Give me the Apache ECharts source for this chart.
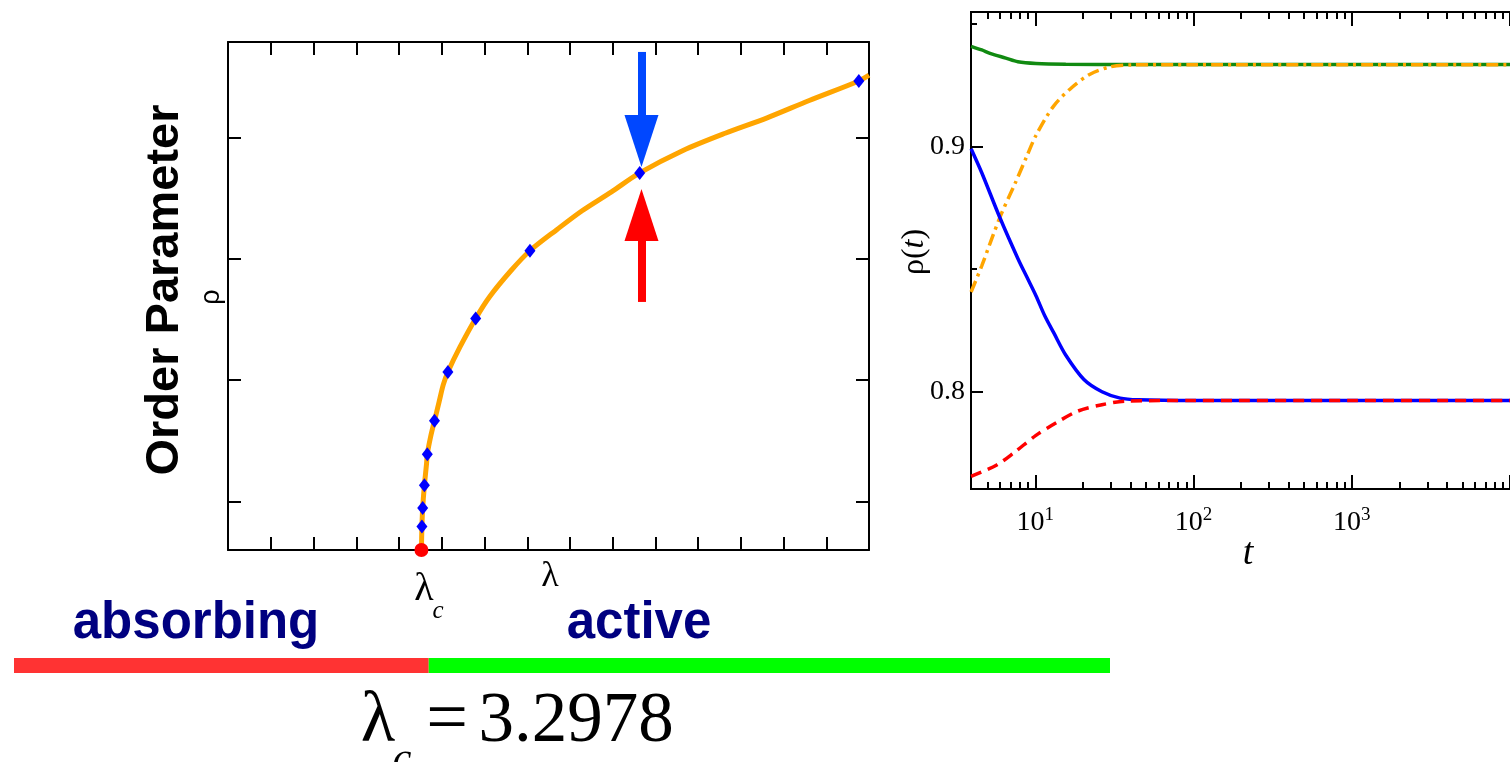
<!DOCTYPE html>
<html>
<head>
<meta charset="utf-8">
<title>order parameter</title>
<script src="https://cdn.jsdelivr.net/npm/echarts@6/dist/echarts.min.js"></script>
<style>
html, body { margin: 0; padding: 0; background: #fff; }
#chart { width: 1510px; height: 762px; }
</style>
</head>
<body>
<div id="chart"></div>
<script>
// ---- left panel: order parameter vs lambda ----
const lambdaC = 3.2978;
const curveLambda = [3.2978, 3.2984, 3.2993, 3.3013, 3.3038, 3.3047, 3.3087, 3.3131, 3.3185, 3.3234, 3.3288,
  3.3431, 3.3613, 3.3776, 3.4022, 3.4248, 3.4562, 3.4858, 3.5202, 3.5532, 3.6039, 3.6532, 3.7023, 3.7516, 3.8096, 3.8215];
const curveRho = [0, 0.0194, 0.0347, 0.0534, 0.0711, 0.0790, 0.0937, 0.1065, 0.1221, 0.1363, 0.1468,
  0.1676, 0.1909, 0.2088, 0.2300, 0.2467, 0.2641, 0.2797, 0.2953, 0.3109, 0.3294, 0.3436, 0.3563, 0.3706, 0.3867, 0.3915];
const pointLambda = [3.2984, 3.2993, 3.3013, 3.3047, 3.3131, 3.3288, 3.3613, 3.4248, 3.5532, 3.8096];
const pointRho = [0.0194, 0.0347, 0.0534, 0.0790, 0.1065, 0.1468, 0.1909, 0.2467, 0.3109, 0.3867];
const lambdaTicks = [3.1217, 3.1717, 3.2217, 3.2717, 3.3217, 3.3717, 3.4217, 3.4717, 3.5217, 3.5717,
  3.6217, 3.6717, 3.7217, 3.7717];
const rhoTicks = [0.04, 0.14, 0.24, 0.34];
// arrows: shaft start, head centre
const arrowLambda = 3.5553;
const blueArrowRho = [0.4106, 0.3372];
const redArrowRho = [0.2045, 0.2762];

// ---- phase bar ----
const phaseNames = ["absorbing", "active"];
const phaseBounds = [2.821, 3.3065, 4.104];

// ---- right panel: rho(t) ----
const tGreen = [3.93, 4.59, 5.23, 6.51, 7.76, 10.1, 15.6, 40, 100, 1000, 10000];
const rhoGreen = [0.9410, 0.9395, 0.9380, 0.9362, 0.9347, 0.9340, 0.9337, 0.9336, 0.9336, 0.9336, 0.9336];
const tOrange = [3.93, 4.59, 5.97, 7.43, 8.85, 10.1, 13.1, 17.1, 22.2, 30.1, 40.9, 100, 1000, 10000];
const rhoOrange = [0.8407, 0.8514, 0.8711, 0.8848, 0.8962, 0.9046, 0.9167, 0.9243, 0.9296, 0.9327, 0.9334,
  0.9335, 0.9335, 0.9335];
const tBlue = [3.93, 4.59, 5.97, 7.76, 8.85, 10.1, 11.5, 13.1, 15.6, 20.3, 26.4, 34.4, 44.7, 100, 1000, 10000];
const rhoBlue = [0.8992, 0.8894, 0.8711, 0.8544, 0.8468, 0.8392, 0.8309, 0.8240, 0.8149, 0.8050, 0.8000,
  0.7974, 0.7967, 0.7964, 0.7964, 0.7964];
const tRed = [3.93, 5.71, 7.43, 10.1, 13.7, 18.6, 26.4, 37.5, 100, 1000, 10000];
const rhoRed = [0.7655, 0.7701, 0.7754, 0.7822, 0.7875, 0.7921, 0.7947, 0.7962, 0.7964, 0.7964, 0.7964];
const tMajor = [10, 100, 1000, 10000];
const tMinor = [5, 6, 7, 8, 9, 20, 30, 40, 50, 60, 70, 80, 90, 200, 300, 400, 500, 600, 700, 800, 900,
  2000, 3000, 4000, 5000, 6000, 7000, 8000, 9000];
const rhoMajor = [0.8, 0.9];
const rhoMinor = [0.85, 0.95];

const SERIF = '"Liberation Serif", "DejaVu Serif", serif';
const SANS = '"Liberation Sans", Arial, sans-serif';
const zip = (a, b) => a.map((v, i) => [v, b[i]]);

// axis helper: only the tick marks and the frame line
function frameAxis(opt, ticks, len) {
  return Object.assign({
    type: "value",
    axisLine: { show: true, onZero: false, lineStyle: { color: "#000", width: 2 } },
    axisTick: { show: true, inside: true, length: len, customValues: ticks, lineStyle: { color: "#000", width: 2 } },
    axisLabel: { show: false },
    splitLine: { show: false }
  }, opt);
}

const chart = echarts.init(document.getElementById("chart"), null, { renderer: "canvas" });

const xAxis = [
  frameAxis({ gridIndex: 0, position: "bottom", min: 3.0715, max: 3.8215 }, lambdaTicks, 13),
  frameAxis({ gridIndex: 0, position: "top", min: 3.0715, max: 3.8215 }, lambdaTicks, 13),
  { gridIndex: 1, type: "value", min: phaseBounds[0], max: phaseBounds[2], show: false },
  frameAxis({ gridIndex: 2, type: "log", position: "bottom", min: 3.925, max: 10000 }, tMajor, 14),
  frameAxis({ gridIndex: 2, type: "log", position: "bottom", min: 3.925, max: 10000 }, tMinor, 7),
  frameAxis({ gridIndex: 2, type: "log", position: "top", min: 3.925, max: 10000 }, tMajor, 14),
  frameAxis({ gridIndex: 2, type: "log", position: "top", min: 3.925, max: 10000 }, tMinor, 7)
];
// labels 10^n on the log axis
xAxis[3].axisLabel = {
  show: true,
  margin: 16,
  customValues: tMajor.slice(0, 3),
  formatter: v => "{b|10}{s|" + Math.round(Math.log10(v)) + "}",
  rich: {
    b: { fontFamily: SERIF, fontSize: 28, lineHeight: 36, color: "#000" },
    s: { fontFamily: SERIF, fontSize: 19, lineHeight: 19, padding: [0, 0, 16, 0], color: "#000" }
  }
};

const yAxis = [
  frameAxis({ gridIndex: 0, position: "left", min: 0, max: 0.4188 }, rhoTicks, 13),
  frameAxis({ gridIndex: 0, position: "right", min: 0, max: 0.4188 }, rhoTicks, 13),
  { gridIndex: 1, type: "category", data: ["phase"], show: false },
  frameAxis({ gridIndex: 2, position: "left", min: 0.7603, max: 0.955 }, rhoMajor, 12),
  frameAxis({ gridIndex: 2, position: "left", min: 0.7603, max: 0.955 }, rhoMinor, 6)
];
yAxis[3].axisLabel = {
  show: true,
  margin: 6,
  customValues: rhoMajor,
  formatter: v => v.toFixed(1),
  fontFamily: SERIF,
  fontSize: 28,
  color: "#000"
};

function shaft(rho, color) {
  return [
    { coord: [arrowLambda, rho[0]], lineStyle: { color: color } },
    { coord: [arrowLambda, rho[1]], lineStyle: { color: color } }
  ];
}

function txt(text, x, y, font, extra) {
  extra = extra || {};
  const el = {
    type: "text", x: x, y: y, silent: true,
    style: Object.assign({
      text: text, font: font, fill: "#000",
      textAlign: "center", textVerticalAlign: "middle", align: "center", verticalAlign: "middle"
    }, extra.style || {})
  };
  if (extra.rotation) el.rotation = extra.rotation;
  return el;
}

const option = {
  animation: false,
  backgroundColor: "#fff",
  grid: [
    { left: 228, right: 641, top: 42, bottom: 212 },
    { left: 14, right: 400, top: 658, height: 15 },
    { left: 971, right: -112, top: 12, bottom: 273 }
  ],
  xAxis: xAxis,
  yAxis: yAxis,
  series: [
    {
      type: "line", xAxisIndex: 0, yAxisIndex: 0,
      data: zip(curveLambda, curveRho),
      showSymbol: false, smooth: 0.3,
      lineStyle: { color: "#ffa500", width: 5 },
      itemStyle: { color: "#ffa500" },
      z: 2,
      markLine: {
        silent: true,
        animation: false,
        symbol: ["none", "none"],
        label: { show: false },
        lineStyle: { type: "solid", width: 8 },
        data: [shaft(blueArrowRho, "#0047ff"), shaft(redArrowRho, "#ff0000")]
      }
    },
    {
      type: "scatter", xAxisIndex: 0, yAxisIndex: 0,
      data: zip(pointLambda, pointRho),
      symbol: "diamond", symbolSize: [11, 14],
      itemStyle: { color: "#0000ff", opacity: 1 },
      z: 3
    },
    // arrow heads
    {
      type: "scatter", xAxisIndex: 0, yAxisIndex: 0,
      data: [
        { value: [arrowLambda, blueArrowRho[1]], symbolRotate: 180, itemStyle: { color: "#0047ff" } },
        { value: [arrowLambda, redArrowRho[1]], symbolRotate: 0, itemStyle: { color: "#ff0000" } }
      ],
      symbol: "triangle", symbolSize: [34, 52],
      itemStyle: { opacity: 1 },
      z: 3
    },
    {
      type: "scatter", xAxisIndex: 0, yAxisIndex: 0,
      data: [[lambdaC, 0]],
      symbolSize: 14, clip: false,
      itemStyle: { color: "#ff0000", opacity: 1 },
      z: 4
    },
    // phase bar
    {
      name: phaseNames[0], type: "bar", xAxisIndex: 2, yAxisIndex: 2, stack: "phase",
      data: [phaseBounds[1]], barWidth: "100%", itemStyle: { color: "#ff3333" }
    },
    {
      name: phaseNames[1], type: "bar", xAxisIndex: 2, yAxisIndex: 2, stack: "phase",
      data: [phaseBounds[2] - phaseBounds[1]], barWidth: "100%", itemStyle: { color: "#00ff00" }
    },
    // rho(t)
    {
      type: "line", xAxisIndex: 3, yAxisIndex: 3, data: zip(tGreen, rhoGreen),
      showSymbol: false, smooth: 0.3, lineStyle: { color: "#118a11", width: 3.5 }
    },
    {
      type: "line", xAxisIndex: 3, yAxisIndex: 3, data: zip(tOrange, rhoOrange),
      showSymbol: false, smooth: 0.3, lineStyle: { color: "#ffa500", width: 3.5, type: [12, 5, 3, 5] }
    },
    {
      type: "line", xAxisIndex: 3, yAxisIndex: 3, data: zip(tBlue, rhoBlue),
      showSymbol: false, smooth: 0.3, lineStyle: { color: "#0000ff", width: 3.5 }
    },
    {
      type: "line", xAxisIndex: 3, yAxisIndex: 3, data: zip(tRed, rhoRed),
      showSymbol: false, smooth: 0.3, lineStyle: { color: "#ff0000", width: 3.5, type: [11, 7] }
    }
  ],
  graphic: [
    txt("Order Parameter", 165, 290, "bold 47px " + SANS, { rotation: Math.PI / 2 }),
    txt("ρ", 212, 297, "27px " + SANS, { rotation: Math.PI / 2 }),
    txt("λ", 424, 589, "40px " + SERIF),
    txt("c", 438, 611, "italic 25px " + SERIF),
    txt("λ", 550, 577, "36px " + SERIF),
    txt(phaseNames[0], 196, 624, "bold 51px " + SANS, { style: { fill: "#000080" } }),
    txt(phaseNames[1], 639, 624, "bold 51px " + SANS, { style: { fill: "#000080" } }),
    txt("t", 1248, 554, "italic 38px " + SERIF),
    txt("{r|ρ(}{i|t}{r|)}", 915, 252, "32px " + SERIF, {
      rotation: Math.PI / 2,
      style: {
        rich: {
          r: { font: "32px " + SERIF, fill: "#000" },
          i: { font: "italic 32px " + SERIF, fill: "#000" }
        }
      }
    }),
    // lambda_c = 3.2978
    txt("λ", 378, 722, "71px " + SERIF),
    txt("c", 402, 760, "italic 42px " + SERIF),
    txt("=", 447, 722, "74px " + SERIF),
    txt("3.2978", 576, 722, "71px " + SERIF)
  ]
};

chart.setOption(option);
</script>
</body>
</html>
